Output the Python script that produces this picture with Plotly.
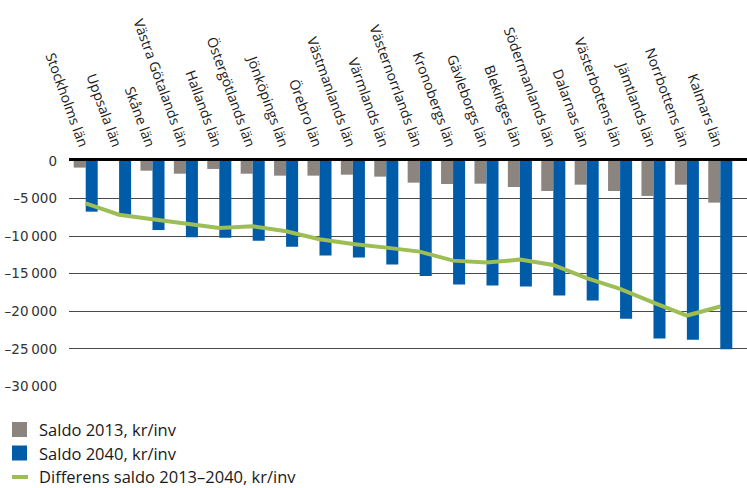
import plotly.graph_objects as go

# Län, ordered as plotted
lan = [
    "Stockholms län", "Uppsala län", "Skåne län", "Västra Götalands län",
    "Hallands län", "Östergötlands län", "Jönköpings län", "Örebro län",
    "Västmanlands län", "Värmlands län", "Västernorrlands län", "Kronobergs län",
    "Gävleborgs län", "Blekinges län", "Södermanlands län", "Dalarnas län",
    "Västerbottens län", "Jämtlands län", "Norrbottens län", "Kalmars län",
]

# Saldo 2013, kr/inv
saldo_2013 = [-880, 0, -1290, -1690, -1060, -1690, -1950, -1950, -1820, -2080,
              -2880, -3060, -3020, -3460, -3990, -3150, -3990, -4650, -3150, -5540]

# Saldo 2040, kr/inv
saldo_2040 = [-6740, -7180, -9180, -10150, -10200, -10600, -11400, -12590, -12860, -13790,
              -15290, -16450, -16580, -16710, -17910, -18570, -21010, -23630, -23800, -25040]

# Differens saldo 2013–2040, kr/inv
differens = [-5650, -7150, -7760, -8290, -8910, -8690, -9350, -10410, -11040, -11530,
             -12060, -13260, -13520, -13120, -13830, -15600, -17020, -18840, -20570, -19370]

series_names = ["Saldo 2013, kr/inv", "Saldo 2040, kr/inv", "Differens saldo 2013–2040, kr/inv"]
series_colors = ["#8c847f", "#005ca9", "#9dbd55"]

# Y-axis ticks
y_ticks = [0, -5000, -10000, -15000, -20000, -25000, -30000]
y_tick_text = ["0", "\u20135\u2009000", "\u201310\u2009000", "\u201315\u2009000",
               "\u201320\u2009000", "\u201325\u2009000", "\u201330\u2009000"]

FONT = "Open Sans, Noto Sans, sans-serif"
W, H = 747, 488
ML, MR, MT, MB = 69, 0, 161, 101

fig = go.Figure()
fig.add_trace(go.Bar(x=lan, y=saldo_2013, name=series_names[0],
                     marker=dict(color=series_colors[0], line=dict(width=0))))
fig.add_trace(go.Bar(x=lan, y=saldo_2040, name=series_names[1],
                     marker=dict(color=series_colors[1], line=dict(width=0))))
fig.add_trace(go.Scatter(x=lan, y=differens, name=series_names[2],
                         mode="lines", line=dict(color=series_colors[2], width=4)))


# Legend below the plot, laid out in pixel units converted to paper coordinates
def px_x(px):
    return (px - ML) / (W - ML - MR)


def px_y(py):
    return (H - MB - py) / (H - MT - MB)


row_centers = [429.5, 453, 476]
key_left, key_right, text_left = 12, 27, 37.5
shapes, annotations = [], []
for i, (name, color) in enumerate(zip(series_names, series_colors)):
    cy = row_centers[i]
    if i < 2:
        shapes.append(dict(type="rect", xref="paper", yref="paper",
                           x0=px_x(key_left), x1=px_x(key_right),
                           y0=px_y(cy + 7.5), y1=px_y(cy - 7.5),
                           fillcolor=color, line=dict(width=0), layer="above"))
    else:
        shapes.append(dict(type="line", xref="paper", yref="paper",
                           x0=px_x(key_left), x1=px_x(key_right + 1),
                           y0=px_y(cy + 1), y1=px_y(cy + 1),
                           line=dict(color=color, width=4), layer="above"))
    annotations.append(dict(xref="paper", yref="paper", x=px_x(text_left), y=px_y(cy),
                            xanchor="left", yanchor="middle", showarrow=False,
                            borderpad=0, text=name,
                            font=dict(size=16.5, color="#1a1a1a", family=FONT)))

fig.update_layout(
    width=W, height=H,
    margin=dict(l=ML, r=MR, t=MT, b=MB, autoexpand=False),
    paper_bgcolor="white", plot_bgcolor="white",
    barmode="group", bargap=0.28, bargroupgap=0,
    font=dict(family=FONT, color="#222222"),
    showlegend=False,
    shapes=shapes,
    annotations=annotations,
)

fig.update_xaxes(
    side="top", tickangle=70,
    range=[-0.5, 19.8],
    showgrid=False, zeroline=False,
    showline=True, linecolor="#000000", linewidth=2.5,
    ticks="", tickfont=dict(size=14, color="#1a1a1a"),
    layer="above traces", automargin=False,
)

fig.update_yaxes(
    range=[-30080, 0],
    tickvals=y_ticks, ticktext=y_tick_text,
    tickfont=dict(family="DejaVu Sans, sans-serif", size=13.5, color="#333333"),
    showgrid=True, gridcolor="#4a4a4a", gridwidth=1,
    zeroline=False, showline=False, ticks="",
    ticklabelstandoff=11, automargin=False,
)

fig.write_html("out.html")
